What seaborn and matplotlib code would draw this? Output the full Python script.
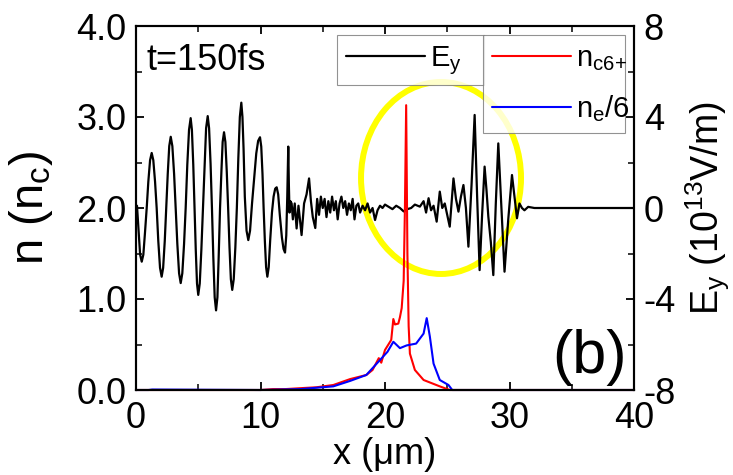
import numpy as np
import pandas as pd
import matplotlib
matplotlib.use("Agg")
import matplotlib.pyplot as plt
from matplotlib.patches import Ellipse
from matplotlib.ticker import MultipleLocator
import seaborn as sns

# E_y field (right axis, 10^13 V/m)
x_ey = [0.00, 0.08, 0.22, 0.33, 0.46, 0.59, 0.72, 0.86,
        0.99, 1.13, 1.26, 1.39, 1.53, 1.66,
        1.79, 1.93, 2.06, 2.18, 2.31, 2.43,
        2.55, 2.67, 2.79, 2.92, 3.06, 3.19,
        3.32, 3.46, 3.59, 3.72, 3.86, 3.99,
        4.12, 4.26, 4.39, 4.49, 4.60, 4.70,
        4.80, 4.90, 5.00, 5.12, 5.25, 5.38,
        5.51, 5.63, 5.76, 5.87, 5.99, 6.10,
        6.21, 6.32, 6.43, 6.54, 6.64, 6.75,
        6.86, 6.96, 7.07, 7.18, 7.29, 7.40,
        7.51, 7.62, 7.73, 7.85, 7.98, 8.10,
        8.22, 8.34, 8.46, 8.55, 8.64, 8.74, 8.88, 9.02, 9.16, 9.32,
        9.49, 9.66, 9.81, 9.96, 10.06, 10.16, 10.25, 10.35, 10.45, 10.55,
        10.66, 10.78, 10.92, 11.05, 11.18, 11.30, 11.42, 11.55, 11.72, 11.85,
        11.97, 12.07, 12.15, 12.23, 12.28, 12.33,
        12.40, 12.50, 12.60, 12.75, 12.90, 13.05, 13.30,
        13.50, 13.70, 13.90, 14.05, 14.20, 14.40, 14.55, 14.70, 14.85, 15.00,
        15.15, 15.30, 15.45, 15.60, 15.75, 15.90, 16.05, 16.20, 16.35, 16.50,
        16.65, 16.80, 16.95, 17.10, 17.25, 17.40, 17.55, 17.70, 17.85, 18.00,
        18.20, 18.40, 18.60, 18.80, 19.00, 19.20, 19.40, 19.60, 19.80, 20.00,
        20.30, 20.60, 20.90, 21.20, 21.50, 21.80, 22.10, 22.40, 22.80, 23.10,
        23.30, 23.50, 23.70, 23.90, 24.15, 24.40, 24.60, 24.80, 25.00, 25.20,
        25.50, 25.70, 25.90, 26.10, 26.30, 26.50, 26.70, 26.95, 27.20, 27.40,
        27.60, 27.80, 28.00, 28.15, 28.30, 28.50, 28.70, 28.90, 29.10, 29.35,
        29.60, 29.90, 30.20, 30.40, 30.60, 30.80, 31.00, 31.20, 31.50, 32.00,
        34.00, 36.00, 38.00, 40.00]
ey = [0.0, 0.1, -1.1, -2.05, -2.36, -2.05, -1.1, 0.0,
      1.16, 2.1, 2.42, 2.1, 1.16, 0.0,
      -1.45, -2.63, -3.02, -2.63, -1.45, 0.0,
      1.5, 2.72, 3.13, 2.72, 1.5, 0.0,
      -1.58, -2.87, -3.30, -2.87, -1.58, 0.0,
      1.9, 3.44, 3.95, 3.44, 1.9, 0.0,
      -1.83, -3.32, -3.82, -3.32, -1.83, 0.0,
      1.94, 3.51, 4.04, 3.51, 1.94, 0.0,
      -2.16, -3.92, -4.50, -3.92, -2.16, 0.0,
      1.6, 2.9, 3.33, 2.9, 1.6, 0.0,
      -1.73, -3.13, -3.60, -3.13, -1.73, 0.0,
      2.2, 4.0, 4.63, 4.0, 2.6, 0.5, -1.0, -1.41, -1.0, 0.2,
      1.3, 2.4, 2.95, 3.11, 2.7, 1.5, 0.0, -1.45, -2.6, -3.02,
      -2.6, -1.4, -0.2, 0.5, 0.85, 0.91, 0.6, -0.3, -1.3, -1.8,
      -1.96, -1.2, 0.5, 2.70, 1.0, -0.2,
      0.3, 0.2, -0.5, 0.2, -0.9, 0.1, -1.19,
      0.2, 0.6, 1.3, 0.3, -0.4, -0.88, 0.4, -0.3, 0.5, 0.0,
      0.4, -0.4, 0.3, -0.2, 0.5, -0.1, 0.3, -0.5, 0.2, 0.5,
      0.0, 0.3, -0.3, 0.2, -0.1, 0.4, -0.5, 0.1, 0.2, -0.2,
      0.1, -0.1, 0.2, -0.2, 0.0, -0.53, -0.1, 0.1, 0.0, 0.15,
      0.05, -0.05, 0.1, 0.0, -0.15, -0.05, 0.0, 0.15, 0.06, 0.3,
      -0.2, 0.43, -0.1, 0.1, -0.6, 0.72, 0.0, 0.2, -0.3, -0.82,
      1.30, 0.4, -0.16, 0.5, 1.01, 0.0, -1.70, 1.0, 4.09, 0.5,
      -2.73, -0.3, 1.82, 0.8, -0.38, -1.5, -2.95, 0.2, 2.84, 0.0,
      -2.80, -0.5, 1.45, 0.5, -0.45, 0.2, 0.0, -0.1, 0.05, 0.0,
      0.0, 0.0, 0.0, 0.0]

# n_c6+ density (left axis, n_c)
x_c6 = [0, 10, 11, 12, 13.2, 14.5, 15.85, 17.2, 18.5, 19.0, 19.5, 19.7, 20.0,
        20.5, 20.67, 20.8, 21.07, 21.2, 21.34, 21.5, 21.6, 21.7, 21.8, 21.9,
        22.0, 22.4, 23.1, 24.4, 25.2, 40]
n_c6 = [0, 0, 0.01, 0.01, 0.02, 0.03, 0.055, 0.12, 0.165, 0.22, 0.35, 0.3, 0.44,
        0.55, 0.78, 0.72, 0.73, 0.8, 0.9, 1.2, 2.0, 3.13, 1.5, 0.7,
        0.40, 0.22, 0.11, 0.04, 0.0, 0.0]

# n_e/6 density (left axis, n_c)
x_e = [0, 1.0, 1.3, 10, 13.2, 15.85, 17.2, 18.5, 19.6, 20.2, 20.67, 21.2, 21.74,
       22.5, 23.1, 23.35, 23.6, 23.9, 24.4, 25.1, 25.4, 28, 40]
n_e6 = [0, 0, 0.005, 0, 0.01, 0.04, 0.1, 0.165, 0.33, 0.42, 0.53, 0.46, 0.49,
        0.51, 0.62, 0.79, 0.59, 0.29, 0.11, 0.055, 0, 0, 0]

sns.set_style("ticks")
plt.rcParams["font.family"] = ["Liberation Sans", "DejaVu Sans"]
plt.rcParams["mathtext.fontset"] = "custom"
plt.rcParams["mathtext.rm"] = "Liberation Sans"
plt.rcParams["mathtext.it"] = "Liberation Sans"
plt.rcParams["axes.unicode_minus"] = False
for k in ["text.color", "axes.labelcolor", "xtick.color", "ytick.color", "axes.edgecolor"]:
    plt.rcParams[k] = "black"

fig = plt.figure(figsize=(7.33, 4.75), dpi=100)
ax = fig.add_axes([136/733, 1-390/475, (634-136)/733, (390-26)/475])
ax2 = ax.twinx()

# field on the twin axis, underneath
ell = Ellipse((24.5, 1.32), 12.85, 8.44, fill=False, edgecolor="#ffff00", lw=4.3, zorder=0)
ax2.add_patch(ell)
sns.lineplot(x=x_ey, y=ey, ax=ax2, color="black", lw=1.6, estimator=None, sort=False,
             label="E$_\\mathregular{y}$", zorder=2)

ax.set_zorder(ax2.get_zorder() + 1)
ax.patch.set_visible(False)
sns.lineplot(x=x_c6, y=n_c6, ax=ax, color="#ff0000", lw=1.5, estimator=None, sort=False,
             label="n$_\\mathregular{c6{+}}$", clip_on=False)
sns.lineplot(x=x_e, y=n_e6, ax=ax, color="#0000ff", lw=1.5, estimator=None, sort=False,
             label="n$_\\mathregular{e}$/6", clip_on=False)

ax.set_xlim(0, 40)
ax.set_ylim(0, 4)
ax2.set_ylim(-8, 8)
ax.xaxis.set_major_locator(MultipleLocator(10))
ax.xaxis.set_minor_locator(MultipleLocator(5))
ax.yaxis.set_major_locator(MultipleLocator(1))
ax.yaxis.set_minor_locator(MultipleLocator(0.5))
ax2.yaxis.set_major_locator(MultipleLocator(4))
ax2.yaxis.set_minor_locator(MultipleLocator(2))
ax.set_yticks([0, 1, 2, 3, 4], ["0.0", "1.0", "2.0", "3.0", "4.0"])

for a in (ax, ax2):
    for s in a.spines.values():
        s.set_linewidth(1.5)
        s.set_color("black")
    a.tick_params(which="major", direction="in", length=6, width=1.3, color="black",
                  labelsize=26, pad=7)
    a.tick_params(which="minor", direction="in", length=4, width=1.1, color="black")
ax.tick_params(axis="x", which="both", top=True, bottom=True, pad=8)
ax.tick_params(axis="y", which="both", left=True, right=False)
ax2.tick_params(axis="y", which="both", right=True, left=False)

ax.set_xlabel("x (μm)", fontsize=26)
ax.set_ylabel("n (n$_\\mathregular{c}$)", fontsize=34)
ax2.set_ylabel("E$_\\mathregular{y}$ (10$^\\mathregular{13}$V/m)", fontsize=27)
ax.xaxis.set_label_coords(0.5, -0.13)
ax.yaxis.set_label_coords(-0.163, 0.5)
ax2.yaxis.set_label_coords(1.1, 0.5)

ax.text(0.022, 0.905, "t=150fs", transform=ax.transAxes, fontsize=26, va="center")
ax.text(0.91, 0.09, "(b)", transform=ax.transAxes, fontsize=44, ha="center", va="center")

leg_kw = dict(fontsize=21, frameon=True, fancybox=False, edgecolor="#777777",
              handlelength=2.7, handletextpad=0.2, borderaxespad=0, borderpad=0.3,
              labelspacing=0.7, loc="upper left", mode="expand",
              bbox_transform=fig.transFigure)
ax2.legend(bbox_to_anchor=(337/733, 1-84/475, 147/733, 49/475), **leg_kw).get_frame().set_linewidth(0.8)
lg = ax.legend(bbox_to_anchor=(483/733, 1-137/475, 142/733, 102/475), **leg_kw)
lg.get_frame().set_linewidth(0.8)

fig.savefig("out.png", dpi=100)
